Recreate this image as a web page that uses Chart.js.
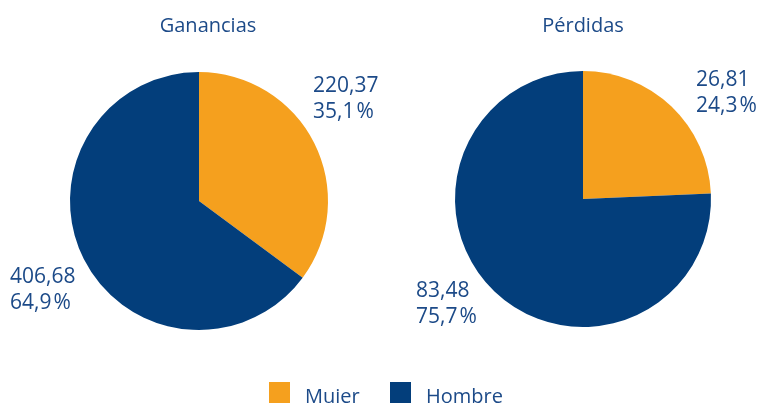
<!DOCTYPE html>
<html>
<head>
<meta charset="utf-8">
<script src="https://cdn.jsdelivr.net/npm/chart.js@4/dist/chart.umd.min.js"></script>
<style>
  html, body { margin: 0; padding: 0; background: #ffffff; }
  #wrap { position: relative; width: 761px; height: 405px; overflow: hidden; }
  #wrap canvas { position: absolute; left: 0; top: 0; }
</style>
</head>
<body>
<div id="wrap">
  <canvas id="gan" width="761" height="405"></canvas>
  <canvas id="per" width="761" height="405"></canvas>
</div>
<script>
// Series labels (legend entries)
const categories = ['Muier', 'Hombre'];
// Ganancias: value per group
const gananciasValues = [220.37, 406.68];
const gananciasPct = ['35,1%', '64,9%'];
// Pérdidas: value per group
const perdidasValues = [26.81, 83.48];
const perdidasPct = ['24,3%', '75,7%'];
const chartTitles = ['Ganancias', 'Pérdidas'];

const ORANGE = '#F5A01E';
const NAVY = '#033E7B';
const TEXT = '#1C4A88';
const FONT = '"Open Sans", "Noto Sans", sans-serif';

function fmt(v) {
  return v.toFixed(2).replace('.', ',');
}

// Percent text with a little extra room before the % sign
function drawPct(ctx, s, x, y) {
  const num = s.replace('%', '');
  ctx.fillText(num, x, y);
  ctx.fillText('%', x + ctx.measureText(num).width + 2, y);
}

// Draws the title, the value labels and (optionally) the shared legend
function makeLabelPlugin(title, titleX, values, pcts, labelPos, drawLegend) {
  return {
    id: 'labels_' + title,
    afterDraw(chart) {
      const ctx = chart.ctx;
      ctx.save();
      ctx.fillStyle = TEXT;
      ctx.font = '20px ' + FONT;
      ctx.textAlign = 'center';
      ctx.textBaseline = 'alphabetic';
      ctx.fillText(title, titleX, 32);

      ctx.font = '21px ' + FONT;
      ctx.textAlign = 'left';
      values.forEach((v, i) => {
        const p = labelPos[i];
        ctx.fillText(fmt(v), p[0], p[1]);
        drawPct(ctx, pcts[i], p[0], p[1] + 26);
      });

      if (drawLegend) {
        const items = [
          { text: categories[0], color: ORANGE, x: 269 },
          { text: categories[1], color: NAVY, x: 390 }
        ];
        ctx.font = '20px ' + FONT;
        items.forEach(it => {
          ctx.fillStyle = it.color;
          ctx.fillRect(it.x, 382, 21, 21);
          ctx.fillStyle = TEXT;
          ctx.fillText(it.text, it.x + 36, 403);
        });
      }
      ctx.restore();
    }
  };
}

function pie(id, values, padding, plugin) {
  return new Chart(document.getElementById(id), {
    type: 'pie',
    data: {
      labels: categories,
      datasets: [{
        data: values,
        backgroundColor: [ORANGE, NAVY],
        borderWidth: 0
      }]
    },
    options: {
      responsive: false,
      animation: false,
      events: [],
      layout: { padding },
      plugins: { legend: { display: false }, tooltip: { enabled: false } }
    },
    plugins: [plugin]
  });
}

pie('gan', gananciasValues,
    { left: 70, right: 433, top: 72, bottom: 75 },
    makeLabelPlugin(chartTitles[0], 208, gananciasValues, gananciasPct,
                    [[313, 92], [10, 283]], true));

pie('per', perdidasValues,
    { left: 455, right: 50, top: 71, bottom: 78 },
    makeLabelPlugin(chartTitles[1], 583, perdidasValues, perdidasPct,
                    [[696, 86], [416, 297]], false));
</script>
</body>
</html>
